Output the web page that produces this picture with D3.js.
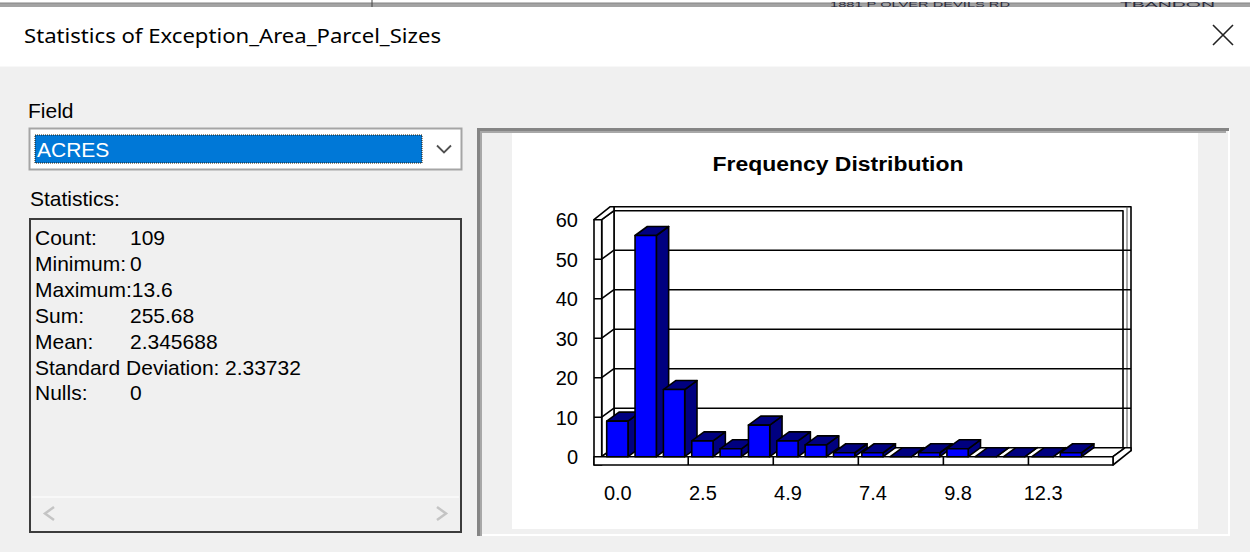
<!DOCTYPE html>
<html>
<head>
<meta charset="utf-8">
<script src="https://cdn.jsdelivr.net/npm/d3@7"></script>
<style>
  body { margin: 0; background: #f0f0f0; overflow: hidden; }
  svg { display: block; }
  text { font-family: "Liberation Sans", Arial, sans-serif; fill: #000; }
</style>
</head>
<body>
<div id="main"></div>
<script>

// histogram of ACRES, 17 bins
var binCounts = [9, 56, 17, 4, 2, 8, 4, 3, 1, 1, 0, 1, 2, 0, 0, 0, 1];
var tickBins = [0, 3, 6, 9, 12, 15];
var tickLabels = ["0.0", "2.5", "4.9", "7.4", "9.8", "12.3"];
var yTicks = [0, 10, 20, 30, 40, 50, 60];

var statNames = ["Count:", "Minimum:", "Maximum:", "Sum:", "Mean:", "Standard Deviation:", "Nulls:"];
var statValues = ["109", "0", "13.6", "255.68", "2.345688", "2.33732", "0"];

var dimensions = {
  width: 1250,
  height: 552
}

var SVG = d3.select("#main")
  .append("svg")
    .attr("width", dimensions.width)
    .attr("height", dimensions.height)

// window header
SVG.append("rect").attr("x", 0).attr("y", 0).attr("width", 1250).attr("height", 66.5).style("fill", "#ffffff")
SVG.append("rect").attr("x", 0).attr("y", 3).attr("width", 1250).attr("height", 4).style("fill", "#a3a3a3")
SVG.append("line").attr("x1", 0).attr("x2", 1250).attr("y1", 3).attr("y2", 3).style("stroke", "#858585")
SVG.append("line").attr("x1", 372).attr("x2", 372).attr("y1", 0).attr("y2", 7).style("stroke", "#444")
// scrap of the window behind, tiny so it stays inside the strip
SVG.append("text").attr("x", 830).attr("y", 7).attr("textLength", 180).attr("lengthAdjust", "spacingAndGlyphs")
  .style("font-size", "8px").style("fill", "#2a2a3a").text("1881 P OLVER DEVILS RD")
SVG.append("text").attr("x", 1120).attr("y", 7).attr("textLength", 95).attr("lengthAdjust", "spacingAndGlyphs")
  .style("font-size", "8px").style("fill", "#2a2a3a").text("TBANDON")

SVG.append("text")
  .attr("x", 24).attr("y", 43)
  .attr("textLength", 417).attr("lengthAdjust", "spacingAndGlyphs")
  .style("font-family", "'Noto Sans', 'Open Sans', sans-serif")
  .style("font-size", "20px")
  .text("Statistics of Exception_Area_Parcel_Sizes")

SVG.append("path")
  .attr("d", "M1213,25L1233,45M1233,25L1213,45")
  .style("stroke", "#222").style("stroke-width", 1.6).style("fill", "none")

// left side
SVG.append("text").attr("x", 28).attr("y", 118).style("font-size", "21px").text("Field")

SVG.append("rect").attr("x", 29.5).attr("y", 128.5).attr("width", 432).attr("height", 41)
  .style("fill", "#ffffff").style("stroke", "#a5a5a5").style("stroke-width", 2)
SVG.append("rect").attr("x", 35).attr("y", 135).attr("width", 387).attr("height", 28)
  .style("fill", "#0078d7").style("stroke", "#2b1a00").style("stroke-dasharray", "1,1")
SVG.append("text").attr("x", 37).attr("y", 157).style("font-size", "21px").style("fill", "#ffffff").text("ACRES")
SVG.append("path").attr("d", "M437,145.5L444,152.5L451,145.5")
  .style("fill", "none").style("stroke", "#505050").style("stroke-width", 1.8)

SVG.append("text").attr("x", 30).attr("y", 206).style("font-size", "21px").text("Statistics:")

SVG.append("rect").attr("x", 30).attr("y", 219).attr("width", 431).attr("height", 313)
  .style("fill", "#f0f0f0").style("stroke", "#3c3c3c").style("stroke-width", 2)
SVG.append("line").attr("x1", 32).attr("x2", 459).attr("y1", 497).attr("y2", 497).style("stroke", "#fbfbfb").style("stroke-width", 1.5)
SVG.append("path").attr("d", "M54,507L45,513.5L54,520M437,507L446,513.5L437,520")
  .style("fill", "none").style("stroke", "#c4c4c4").style("stroke-width", 2.5)

var statRows = SVG.append("g")
  .selectAll("g")
  .data(statNames)
  .enter()
  .append("g")
  .attr("transform", function(d, i) { return "translate(35," + (245 + i * 25.9) + ")"; })

statRows.append("text").style("font-size", "21px").text(function(d) { return d; })
statRows.each(function(d, i) {
  var w = d3.select(this).select("text").node().getComputedTextLength();
  // tab stop at 95px, long labels jump to the next one
  var vx = w <= 95 ? 95 : (w < 110 ? w : 190);
  d3.select(this).append("text").attr("x", vx).style("font-size", "21px").text(statValues[i])
})

// chart panel (sunken)
SVG.append("rect").attr("x", 477).attr("y", 128).attr("width", 753).attr("height", 408).style("fill", "#f0f0f0")
SVG.append("path").attr("d", "M1229,129V535H478").style("fill", "none").style("stroke", "#ffffff").style("stroke-width", 2)
SVG.append("path").attr("d", "M478.5,536V129.5H1229").style("fill", "none").style("stroke", "#858585").style("stroke-width", 3)
SVG.append("path").attr("d", "M481,536V132H1226").style("fill", "none").style("stroke", "#a8a8a8").style("stroke-width", 2)
SVG.append("rect").attr("x", 512).attr("y", 133).attr("width", 686).attr("height", 396).style("fill", "#ffffff")

SVG.append("text")
  .attr("x", 838).attr("y", 171)
  .attr("text-anchor", "middle")
  .attr("textLength", 251).attr("lengthAdjust", "spacingAndGlyphs")
  .style("font-size", "20px").style("font-weight", "bold")
  .text("Frequency Distribution")

// 3d plot geometry
var depth = { dx: 12.3, dy: -9 }
var pitch = 28.35
var barW = 21.3
var x = d3.scaleLinear().domain([0, binCounts.length]).range([606.7, 606.7 + binCounts.length * pitch])
var xMid = d3.scaleLinear().domain([0, binCounts.length]).range([606.7 + barW / 2, 606.7 + barW / 2 + binCounts.length * pitch])
var yFront = d3.scaleLinear().domain([0, 60]).range([456.7, 219.7])
var yBack = function(v) { return yFront(v) + depth.dy; }

var frontL = 594, innerL = 601.7, floorR = 1113, floorB = 465
var backL = innerL + depth.dx, backR = 1123, backTop = yBack(60)

var chart = SVG.append("g").style("stroke", "#000").style("stroke-width", 1.6).style("stroke-linejoin", "round")

// back wall
chart.append("rect").attr("x", backL).attr("y", backTop - 4).attr("width", 1131 - backL).attr("height", yBack(0) + 3 - backTop + 4).style("fill", "#fff")
chart.append("path").attr("d", "M" + backL + "," + backTop + "H" + backR + "V" + yBack(0)).style("fill", "none")
chart.append("line").attr("x1", 1127).attr("x2", 1127).attr("y1", backTop - 4).attr("y2", yBack(0) + 2).style("stroke", "#555").style("stroke-width", 1)

chart.append("g")
  .selectAll("path")
  .data(yTicks.slice(1, -1))
  .enter()
  .append("path")
  .attr("d", function(v) { return "M" + backL + "," + yBack(v) + "H1131"; })

// left wall
chart.append("path")
  .attr("d", "M" + innerL + "," + yFront(60) + "L" + backL + "," + backTop + "V" + yBack(0) + "L" + innerL + "," + yFront(0) + "Z")
  .style("fill", "#fff")
chart.append("path")
  .attr("d", "M" + frontL + "," + yFront(60) + "L" + (frontL + depth.dx + 4) + "," + (backTop - 4) + "H" + backL + "V" + backTop + "L" + innerL + "," + yFront(60) + "Z")
  .style("fill", "#fff")
chart.append("rect").attr("x", frontL).attr("y", yFront(60)).attr("width", innerL - frontL).attr("height", floorB - yFront(60)).style("fill", "#fff")

chart.append("g")
  .selectAll("path")
  .data(yTicks.slice(1, -1))
  .enter()
  .append("path")
  .style("fill", "none")
  .attr("d", function(v) { return "M" + frontL + "," + yFront(v) + "H" + innerL + "L" + backL + "," + yBack(v); })

// floor slab
chart.append("path")
  .attr("d", "M" + innerL + "," + yFront(0) + "H" + floorR + "L" + (floorR + depth.dx) + "," + yBack(0) + "H" + backL + "Z")
  .style("fill", "#fff")
chart.append("path")
  .attr("d", "M" + floorR + "," + yFront(0) + "L" + (floorR + depth.dx) + "," + yBack(0) + "H1131V" + (yBack(0) + 3) + "L" + floorR + "," + floorB + "Z")
  .style("fill", "#fff")
chart.append("rect").attr("x", frontL).attr("y", yFront(0)).attr("width", floorR - frontL).attr("height", floorB - yFront(0)).style("fill", "#fff")

chart.append("g")
  .selectAll("line")
  .data(tickBins.slice(1))
  .enter()
  .append("line")
  .attr("x1", function(i) { return x(i) - (pitch - barW) / 2; })
  .attr("x2", function(i) { return x(i) - (pitch - barW) / 2; })
  .attr("y1", yFront(0))
  .attr("y2", floorB)

// bars, left to right so each one covers the side of the previous
var bars = chart.append("g")
  .selectAll("g")
  .data(binCounts)
  .enter()
  .append("g")

bars.append("path")
  .style("fill", "#000080")
  .attr("d", function(d, i) {
    var x0 = x(i) + barW, y0 = yFront(d), y1 = yFront(0)
    return "M" + x0 + "," + y0 + "l" + depth.dx + "," + depth.dy + "V" + (y1 + depth.dy) + "L" + x0 + "," + y1 + "Z"
  })
bars.append("path")
  .style("fill", "#000080")
  .attr("d", function(d, i) {
    var x0 = x(i), y0 = yFront(d)
    return "M" + x0 + "," + y0 + "h" + barW + "l" + depth.dx + "," + depth.dy + "h" + (-barW) + "Z"
  })
bars.append("rect")
  .style("fill", "#0000ff")
  .attr("x", function(d, i) { return x(i); })
  .attr("y", function(d) { return yFront(d); })
  .attr("width", barW)
  .attr("height", function(d) { return yFront(0) - yFront(d); })

// axes labels
var yAxis = SVG.append("g")
  .attr("transform", "translate(578,0)")
  .call(d3.axisLeft(yFront).tickValues(yTicks).tickSize(0).tickPadding(0))
yAxis.select(".domain").remove()
yAxis.selectAll("text").style("font-size", "20px").attr("dy", "0.36em")

var xAxis = SVG.append("g")
  .attr("transform", "translate(0,486)")
  .call(d3.axisBottom(xMid).tickValues(tickBins).tickFormat(function(d, i) { return tickLabels[i]; }).tickSize(0).tickPadding(0))
xAxis.select(".domain").remove()
xAxis.selectAll("text").style("font-size", "20px").attr("dy", "0.71em")

</script>
</body>
</html>
